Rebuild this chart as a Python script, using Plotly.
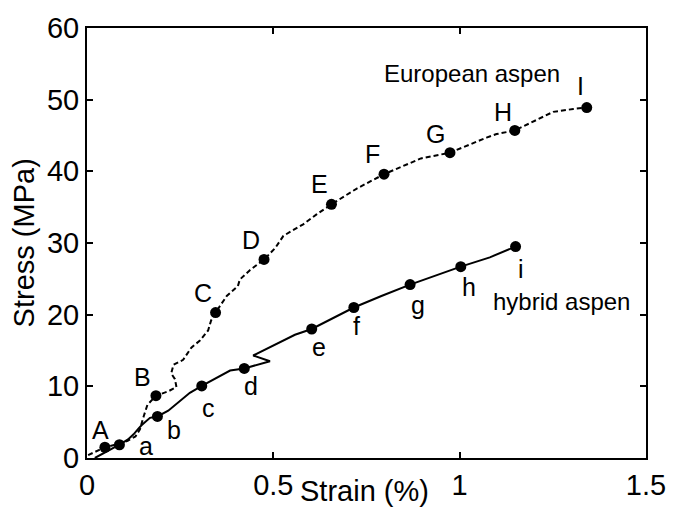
import plotly.graph_objects as go

# ---------------- data ----------------
eu_strain = [0.003, 0.03, 0.048, 0.08, 0.109, 0.13, 0.142, 0.152, 0.162, 0.185,
             0.218, 0.240, 0.236, 0.226, 0.232, 0.258, 0.28, 0.303, 0.325, 0.333,
             0.345, 0.375, 0.405, 0.41, 0.437, 0.475, 0.505, 0.527, 0.58, 0.616,
             0.656, 0.724, 0.797, 0.896, 0.95, 0.974, 1.072, 1.099, 1.148, 1.20,
             1.251, 1.305, 1.341]
eu_stress = [0.4, 1.0, 1.5, 1.9, 2.4, 3.0, 4.0, 5.8, 7.4, 8.7,
             9.3, 9.9, 11.0, 11.8, 13.0, 13.7, 15.4, 16.4, 17.8, 19.2,
             20.3, 22.6, 24.0, 24.9, 26.2, 27.7, 29.3, 31.0, 32.6, 34.0,
             35.4, 37.6, 39.6, 41.8, 42.3, 42.6, 44.7, 45.2, 45.7, 47.0,
             48.3, 48.7, 48.9]

hy_strain = [0.021, 0.05, 0.087, 0.11, 0.125, 0.138, 0.147, 0.169, 0.189, 0.218,
             0.25, 0.276, 0.308, 0.348, 0.37, 0.384, 0.422, 0.491, 0.446, 0.478,
             0.513, 0.558, 0.603, 0.716, 0.79, 0.867, 1.003, 1.081, 1.15]
hy_stress = [0.0, 0.8, 1.85, 2.6, 3.3, 4.1, 4.6, 5.6, 5.8, 6.6,
             8.0, 9.1, 10.05, 11.2, 11.9, 12.2, 12.5, 13.5, 14.3, 15.1,
             16.0, 17.2, 18.0, 21.0, 22.6, 24.2, 26.7, 28.0, 29.5]

eu_mark_strain = [0.048, 0.185, 0.345, 0.475, 0.656, 0.797, 0.974, 1.148, 1.341]
eu_mark_stress = [1.5, 8.7, 20.3, 27.7, 35.4, 39.6, 42.6, 45.7, 48.9]
eu_labels = ["A", "B", "C", "D", "E", "F", "G", "H", "I"]

hy_mark_strain = [0.087, 0.189, 0.308, 0.422, 0.603, 0.716, 0.867, 1.003, 1.15]
hy_mark_stress = [1.85, 5.8, 10.05, 12.5, 18.0, 21.0, 24.2, 26.7, 29.5]
hy_labels = ["a", "b", "c", "d", "e", "f", "g", "h", "i"]

x_tickvals = [0, 0.5, 1, 1.5]
x_ticktext = ["0", "0.5", "1", "1.5"]
y_tickvals = [0, 10, 20, 30, 40, 50, 60]

# label offsets in screen pixels (dx right, dy down)
eu_label_offsets = [(-4, -17), (-13, -19), (-13, -20), (-13, -19), (-12, -20),
                    (-12, -20), (-14, -19), (-12, -18), (-6, -22)]
hy_label_offsets = [(27, 1), (17, 14), (7, 22), (7, 18), (7, 18),
                    (3, 18), (8, 20), (8, 20), (5, 22)]

FONT = "Liberation Sans, Arial, sans-serif"

fig = go.Figure()
fig.add_trace(go.Scatter(x=eu_strain, y=eu_stress, mode="lines",
                         line=dict(color="black", width=2, dash="5px,3px"),
                         hoverinfo="skip", showlegend=False))
fig.add_trace(go.Scatter(x=hy_strain, y=hy_stress, mode="lines",
                         line=dict(color="black", width=2),
                         hoverinfo="skip", showlegend=False))
fig.add_trace(go.Scatter(x=eu_mark_strain, y=eu_mark_stress, mode="markers",
                         marker=dict(color="black", size=11),
                         showlegend=False))
fig.add_trace(go.Scatter(x=hy_mark_strain, y=hy_mark_stress, mode="markers",
                         marker=dict(color="black", size=11),
                         showlegend=False))

annotations = []
for xs, ys, labs, offs in [(eu_mark_strain, eu_mark_stress, eu_labels, eu_label_offsets),
                           (hy_mark_strain, hy_mark_stress, hy_labels, hy_label_offsets)]:
    for xv, yv, lab, (dx, dy) in zip(xs, ys, labs, offs):
        annotations.append(dict(x=xv, y=yv, xref="x", yref="y", text=lab,
                                showarrow=False, xanchor="center", yanchor="middle",
                                xshift=dx, yshift=-dy,
                                font=dict(family=FONT, size=25, color="black")))

annotations.append(dict(x=1.032, y=53.7, xref="x", yref="y", text="European aspen",
                        showarrow=False, xanchor="center", yanchor="middle",
                        font=dict(family=FONT, size=24, color="black")))
annotations.append(dict(x=1.272, y=21.8, xref="x", yref="y", text="hybrid aspen",
                        showarrow=False, xanchor="center", yanchor="middle",
                        font=dict(family=FONT, size=24, color="black")))
annotations.append(dict(x=0.497, y=-0.0776, xref="paper", yref="paper", text="Strain (%)",
                        showarrow=False, xanchor="center", yanchor="middle",
                        font=dict(family=FONT, size=29, color="black")))
annotations.append(dict(x=-0.112, y=0.5, xref="paper", yref="paper", text="Stress (MPa)",
                        showarrow=False, xanchor="center", yanchor="middle", textangle=-90,
                        font=dict(family=FONT, size=29, color="black")))

axis_common = dict(showline=True, linecolor="black", linewidth=2, mirror="ticks",
                   ticks="inside", ticklen=6, tickwidth=2, tickcolor="black",
                   showgrid=False, zeroline=False,
                   tickfont=dict(family=FONT, size=29, color="black"))

fig.update_layout(
    width=680, height=520,
    margin=dict(l=87, r=34, t=20, b=62),
    paper_bgcolor="white", plot_bgcolor="white",
    xaxis=dict(range=[0, 1.5], tickvals=x_tickvals, ticktext=x_ticktext, **axis_common),
    yaxis=dict(range=[0, 60], tickvals=y_tickvals, **axis_common),
    annotations=annotations,
    showlegend=False,
)

fig.write_html("out.html")
